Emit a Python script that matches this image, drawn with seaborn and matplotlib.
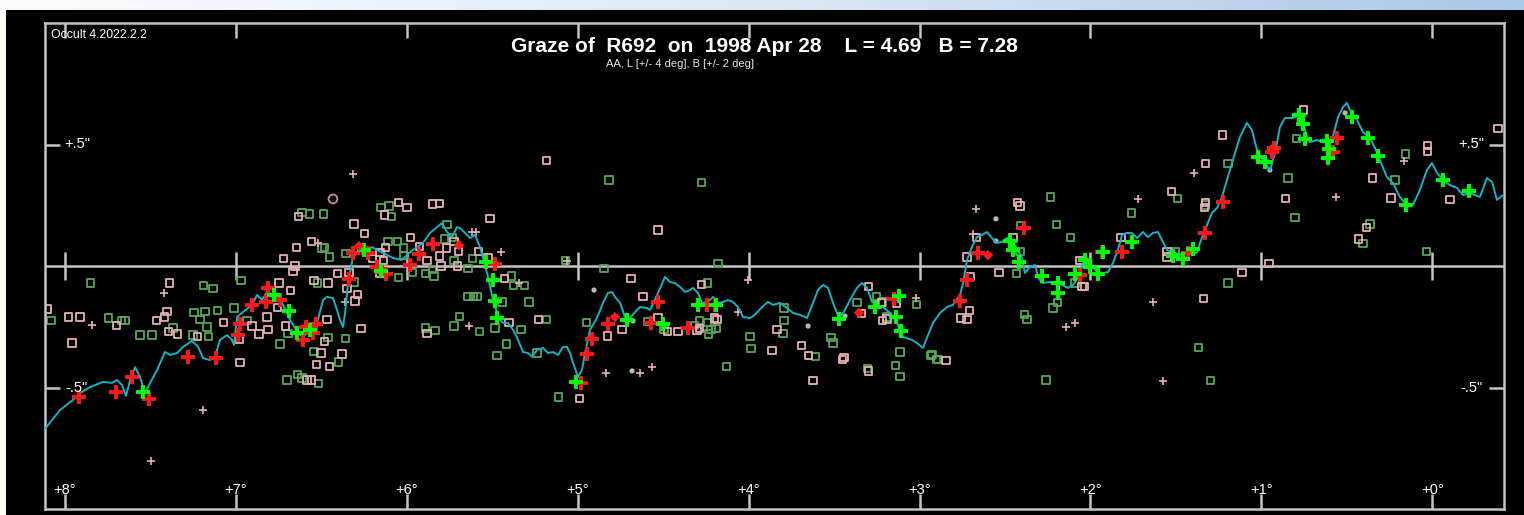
import numpy as np
import pandas as pd
import matplotlib
matplotlib.use("Agg")
import matplotlib.pyplot as plt
from matplotlib.patches import Rectangle
from matplotlib.colors import LinearSegmentedColormap
import seaborn as sns

# ---------------- data (degrees of axis angle, arcsec) ----------------
profile_deg = [8.123, 8.029, 7.953, 7.912, 7.853, 7.777, 7.725, 7.695, 7.666, 7.643, 7.619, 7.590, 7.561, 7.532,
               7.502, 7.461, 7.415, 7.385, 7.344, 7.309, 7.257, 7.221, 7.192, 7.151, 7.122, 7.093, 7.052, 7.023,
               7.011, 6.993, 6.958, 6.906, 6.876, 6.847, 6.818, 6.783, 6.730, 6.683, 6.636, 6.607, 6.566, 6.525,
               6.490, 6.467, 6.432, 6.408, 6.391, 6.373, 6.361, 6.344, 6.315, 6.274, 6.233, 6.203, 6.174, 6.139,
               6.081, 6.028, 5.999, 5.964, 5.905, 5.864, 5.823, 5.794, 5.765, 5.735, 5.706, 5.689, 5.659, 5.630,
               5.601, 5.572, 5.554, 5.525, 5.495, 5.472, 5.454, 5.437, 5.408, 5.378, 5.349, 5.320, 5.291, 5.267,
               5.238, 5.203, 5.174, 5.144, 5.115, 5.086, 5.063, 5.045, 5.027, 4.998, 4.975, 4.957, 4.928, 4.887,
               4.852, 4.823, 4.799, 4.782, 4.752, 4.723, 4.694, 4.653, 4.636, 4.595, 4.577, 4.530, 4.489, 4.460,
               4.431, 4.401, 4.372, 4.343, 4.326, 4.296, 4.273, 4.238, 4.208, 4.179, 4.150, 4.121, 4.091, 4.062,
               4.033, 3.992, 3.963, 3.922, 3.886, 3.857, 3.816, 3.775, 3.740, 3.699, 3.658, 3.623, 3.594, 3.565,
               3.535, 3.506, 3.471, 3.436, 3.407, 3.366, 3.336, 3.307, 3.278, 3.249, 3.214, 3.173, 3.132, 3.097,
               3.044, 3.015, 2.980, 2.950, 2.921, 2.880, 2.839, 2.804, 2.763, 2.745, 2.722, 2.693, 2.664, 2.634,
               2.605, 2.576, 2.547, 2.517, 2.488, 2.459, 2.430, 2.400, 2.383, 2.354, 2.324, 2.307, 2.283, 2.237,
               2.196, 2.166, 2.131, 2.102, 2.073, 2.043, 2.002, 1.962, 1.926, 1.897, 1.868, 1.839, 1.815, 1.786,
               1.757, 1.727, 1.692, 1.663, 1.634, 1.605, 1.581, 1.552, 1.505, 1.459, 1.417, 1.376, 1.359, 1.330,
               1.289, 1.259, 1.230, 1.201, 1.166, 1.125, 1.084, 1.055, 1.025, 0.990, 0.949, 0.920, 0.891, 0.862,
               0.815, 0.786, 0.756, 0.733, 0.715, 0.674, 0.639, 0.598, 0.581, 0.551, 0.522, 0.499, 0.481, 0.440,
               0.405, 0.364, 0.335, 0.306, 0.265, 0.230, 0.189, 0.148, 0.113, 0.072, 0.031, 0.002, -0.028, -0.063,
               -0.104, -0.145, -0.180, -0.221, -0.279, -0.320, -0.350, -0.379, -0.414]
profile_sec = [-0.675, -0.593, -0.551, -0.523, -0.498, -0.477, -0.481, -0.469, -0.490, -0.535, -0.469, -0.416,
               -0.457, -0.523, -0.481, -0.428, -0.354, -0.366, -0.358, -0.333, -0.308, -0.333, -0.379, -0.387,
               -0.374, -0.304, -0.284, -0.304, -0.325, -0.210, -0.189, -0.160, -0.119, -0.140, -0.107, -0.119,
               -0.152, -0.222, -0.275, -0.292, -0.263, -0.234, -0.140, -0.127, -0.132, -0.181, -0.222, -0.251,
               -0.193, -0.070, 0.037, 0.066, 0.066, 0.078, 0.066, 0.054, 0.033, 0.025, 0.045, 0.066, 0.095, 0.136,
               0.160, 0.177, 0.140, 0.119, 0.160, 0.156, 0.136, 0.115, 0.128, 0.078, 0.033, -0.045, -0.140, -0.193,
               -0.222, -0.234, -0.234, -0.263, -0.304, -0.354, -0.358, -0.374, -0.346, -0.337, -0.358, -0.354,
               -0.366, -0.333, -0.333, -0.358, -0.399, -0.457, -0.428, -0.358, -0.263, -0.214, -0.152, -0.111,
               -0.107, -0.127, -0.152, -0.210, -0.214, -0.181, -0.169, -0.173, -0.181, -0.111, -0.045, -0.066,
               -0.070, -0.086, -0.107, -0.099, -0.090, -0.111, -0.152, -0.148, -0.127, -0.152, -0.148, -0.140,
               -0.148, -0.169, -0.210, -0.214, -0.201, -0.169, -0.148, -0.160, -0.152, -0.173, -0.193, -0.201,
               -0.214, -0.152, -0.099, -0.078, -0.090, -0.152, -0.214, -0.181, -0.140, -0.090, -0.070, -0.090,
               -0.148, -0.160, -0.169, -0.193, -0.234, -0.292, -0.304, -0.317, -0.337, -0.284, -0.234, -0.193,
               -0.169, -0.160, -0.119, -0.070, 0.025, 0.078, 0.119, 0.128, 0.140, 0.115, 0.095, 0.099, 0.115,
               0.099, 0.074, 0.033, -0.029, -0.004, 0.004, -0.045, -0.070, -0.066, -0.066, -0.078, -0.090, -0.078,
               -0.049, 0.012, 0.012, -0.025, -0.029, -0.025, 0.012, 0.066, 0.128, 0.136, 0.136, 0.115, 0.140,
               0.119, 0.136, 0.140, 0.107, 0.066, 0.054, 0.045, 0.058, 0.054, 0.095, 0.148, 0.218, 0.239, 0.284,
               0.354, 0.436, 0.531, 0.589, 0.560, 0.477, 0.436, 0.395, 0.465, 0.572, 0.609, 0.609, 0.621, 0.589,
               0.531, 0.510, 0.518, 0.510, 0.518, 0.531, 0.613, 0.654, 0.671, 0.642, 0.601, 0.551, 0.527, 0.486,
               0.436, 0.366, 0.342, 0.284, 0.251, 0.251, 0.313, 0.395, 0.424, 0.383, 0.354, 0.333, 0.321, 0.292,
               0.300, 0.284, 0.362, 0.346, 0.272, 0.292]

red_plus_deg = [7.918, 7.701, 7.608, 7.508, 7.280, 7.116, 6.987, 6.976, 6.906, 6.824, 6.812, 6.742, 6.607, 6.590,
                6.549, 6.531, 6.315, 6.227, 6.338, 6.174, 6.122, 5.981, 5.928, 5.847, 5.484, 4.981, 4.946, 4.916,
                4.823, 4.530, 4.571, 4.355, 4.243, 4.197, 3.149, 2.763, 2.722, 2.658, 2.389, 2.061, 1.932, 1.815,
                1.429, 1.330, 1.225, 0.926, 0.937, 0.557, 0.581]
red_plus_sec = [-0.539, -0.518, -0.457, -0.547, -0.374, -0.378, -0.284, -0.239, -0.160, -0.148, -0.091, -0.140,
                -0.304, -0.251, -0.276, -0.239, 0.054, 0.054, -0.053, -0.004, -0.033, 0.004, 0.050, 0.091, 0.008,
                -0.481, -0.362, -0.300, -0.239, -0.148, -0.234, -0.255, -0.160, -0.160, -0.136, -0.144, -0.058,
                0.054, 0.156, -0.037, 0.058, 0.058, 0.054, 0.136, 0.263, 0.486, 0.469, 0.527, 0.469]

red_dot_deg = [6.280, 5.694, 4.782, 3.354, 2.599]
red_dot_sec = [0.082, 0.086, -0.210, -0.193, 0.045]

green_plus_deg = [7.543, 6.777, 6.689, 6.642, 6.566, 6.250, 6.151, 5.536, 5.495, 5.484, 5.472, 5.010, 4.712, 4.501,
                  4.296, 4.191, 3.260, 3.120, 3.138, 3.108, 2.471, 2.453, 2.418, 2.283, 2.190, 2.190, 2.090, 2.032,
                  2.002, 1.955, 1.926, 1.757, 1.517, 1.459, 1.400, 1.020, 0.979, 0.780, 0.757, 0.745, 0.616, 0.604,
                  0.610, 0.470, 0.376, 0.317, 0.154, -0.063, -0.215, 3.471]
green_plus_sec = [-0.518, -0.119, -0.185, -0.276, -0.263, 0.066, -0.021, 0.017, -0.058, -0.144, -0.214, -0.477,
                  -0.222, -0.239, -0.160, -0.160, -0.169, -0.123, -0.210, -0.267, 0.103, 0.066, 0.017, -0.041,
                  -0.070, -0.111, -0.033, 0.025, -0.004, -0.033, 0.058, 0.099, 0.041, 0.029, 0.070, 0.449, 0.428,
                  0.621, 0.585, 0.523, 0.514, 0.482, 0.445, 0.613, 0.527, 0.453, 0.251, 0.354, 0.309, -0.218]

pink_sq_deg = [8.105, 7.982, 7.912, 7.959, 7.701, 7.467, 7.391, 7.420, 7.403, 7.397, 7.344, 7.227, 7.075, 6.982,
               6.976, 6.906, 6.865, 6.818, 6.812, 6.759, 6.748, 6.712, 6.683, 6.724, 6.666, 6.654, 6.636, 6.560,
               6.648, 6.543, 6.461, 6.467, 6.484, 6.502, 6.531, 6.455, 6.408, 6.584, 6.555, 6.046, 5.999, 5.852,
               5.806, 6.133, 6.309, 6.250, 5.981, 5.928, 6.127, 6.157, 6.203, 6.139, 5.882, 5.811, 5.770, 5.724,
               5.700, 5.583, 5.800, 5.706, 5.525, 5.513, 5.431, 6.338, 6.350, 6.291, 6.303, 6.157, 6.268, 5.882,
               5.402, 5.232, 4.823, 4.741, 4.688, 6.379, 4.618, 4.273, 4.530, 4.477, 4.413, 4.302, 4.290, 4.202,
               4.185, 3.834, 3.863, 3.688, 3.647, 3.453, 3.442, 3.623, 3.301, 3.225, 3.219, 3.190, 3.132, 3.301,
               3.342, 2.722, 2.664, 2.699, 2.705, 2.757, 2.722, 2.845, 2.424, 2.412, 2.453, 2.535, 2.061, 2.049,
               2.032, 1.821, 1.552, 1.552, 1.523, 1.324, 1.330, 1.336, 1.225, 1.324, 0.751, 0.856, 0.352, 0.241,
               0.025, 0.025, -0.104, -0.385, 0.382, 0.429, 0.955, 1.113, 5.180, 4.530, 4.987]
pink_sq_sec = [-0.177, -0.210, -0.210, -0.317, -0.243, -0.226, -0.070, -0.210, -0.189, -0.271, -0.280, -0.292,
               -0.234, -0.304, -0.399, -0.247, -0.280, -0.210, -0.263, -0.169, -0.070, -0.247, -0.099, 0.029,
               -0.021, 0.000, 0.202, 0.099, 0.078, -0.058, -0.070, -0.222, -0.312, -0.358, -0.407, -0.415, -0.029,
               -0.469, -0.469, 0.263, 0.239, 0.255, 0.259, 0.210, 0.173, 0.132, 0.119, 0.082, 0.078, 0.054, 0.029,
               0.021, 0.021, 0.041, 0.074, 0.099, 0.058, 0.058, 0.000, 0.000, 0.033, 0.194, -0.053, -0.025, -0.091,
               -0.119, -0.144, -0.029, -0.259, -0.276, -0.234, -0.222, -0.288, -0.263, -0.053, -0.362, -0.127,
               -0.078, -0.214, -0.271, -0.271, -0.267, -0.259, -0.214, -0.222, -0.263, -0.346, -0.329, -0.370,
               -0.383, -0.378, -0.473, -0.086, -0.152, -0.226, -0.218, -0.156, -0.432, -0.197, 0.037, 0.119,
               -0.045, -0.185, -0.214, -0.222, -0.387, 0.263, 0.247, 0.119, -0.025, 0.021, -0.086, -0.086, 0.119,
               0.058, 0.037, 0.305, 0.263, 0.239, -0.132, 0.539, 0.420, 0.642, 0.276, 0.362, 0.280, 0.494, 0.473,
               0.272, 0.564, 0.160, 0.111, 0.012, -0.025, 0.436, 0.148, -0.547]

green_sq_deg = [7.853, 8.082, 7.748, 7.672, 7.649, 7.561, 7.491, 7.368, 7.251, 7.245, 7.192, 7.134, 7.181, 7.210,
                7.169, 7.163, 7.110, 7.011, 6.970, 6.935, 6.742, 6.695, 6.613, 6.572, 6.490, 6.496, 6.484, 6.455,
                6.525, 6.701, 6.642, 6.613, 6.514, 6.397, 6.543, 6.461, 6.151, 6.104, 6.087, 6.057, 6.110, 6.022,
                6.022, 6.356, 6.309, 6.046, 5.969, 5.893, 5.841, 5.847, 5.724, 5.642, 5.618, 5.765, 5.782, 5.730,
                5.642, 5.612, 5.589, 5.443, 5.390, 5.373, 5.314, 5.285, 5.694, 5.724, 5.893, 5.835, 5.572, 5.484,
                5.419, 5.332, 5.472, 5.238, 5.180, 4.951, 5.074, 4.846, 6.361, 5.115, 4.243, 4.314, 4.290, 4.243,
                4.220, 4.191, 4.237, 3.793, 3.799, 3.992, 3.986, 4.132, 3.611, 3.518, 3.506, 3.366, 3.249, 3.214,
                3.190, 3.114, 3.143, 3.114, 3.307, 2.933, 2.898, 3.020, 3.793, 4.179, 4.594, 4.495, 2.231, 2.201,
                2.119, 2.406, 2.412, 2.430, 2.383, 2.371, 2.219, 2.190, 2.090, 1.757, 1.488, 1.505, 1.365, 1.195,
                2.927, 2.892, 1.195, 1.324, 0.844, 0.792, 0.803, 0.364, 0.405, 0.218, 0.154, 0.031, 4.817, 4.273,
                2.260, 1.300]
green_sq_sec = [-0.070, -0.226, -0.214, -0.226, -0.226, -0.284, -0.284, -0.255, -0.284, -0.193, -0.082, -0.091,
                -0.189, -0.222, -0.251, -0.292, -0.185, -0.173, -0.058, -0.226, -0.321, -0.276, 0.222, 0.214, 0.214,
                0.074, 0.078, 0.037, -0.070, -0.469, -0.448, -0.461, -0.485, -0.395, -0.350, -0.296, 0.239, 0.247,
                0.202, 0.099, 0.099, 0.074, 0.045, 0.050, -0.066, -0.049, -0.025, -0.029, -0.041, -0.016, 0.021,
                -0.012, 0.029, 0.169, 0.111, 0.119, -0.127, -0.127, -0.127, -0.148, -0.041, -0.082, -0.082, -0.148,
                -0.206, -0.247, -0.255, -0.267, -0.271, -0.255, -0.321, -0.263, -0.370, -0.358, -0.222, -0.234,
                0.021, -0.012, -0.300, -0.539, -0.070, -0.243, -0.226, -0.234, -0.263, -0.259, -0.280, -0.173,
                -0.276, -0.292, -0.341, -0.415, -0.374, -0.296, -0.317, -0.152, -0.127, -0.148, -0.210, -0.354,
                -0.411, -0.453, -0.420, -0.370, -0.383, -0.160, -0.226, 0.012, -0.230, -0.263, 0.284, 0.169, 0.119,
                0.165, 0.058, -0.029, -0.201, -0.222, -0.173, -0.152, -0.070, 0.218, 0.276, 0.058, -0.337, -0.070,
                -0.366, -0.383, 0.420, 0.251, 0.362, 0.523, 0.198, 0.173, 0.091, 0.354, 0.461, 0.058, 0.354, 0.342,
                -0.469, -0.473]

small_plus_deg = [7.420, 7.842, 7.192, 7.497, 6.519, 5.449, 5.618, 5.595, 5.343, 5.636, 6.361, 5.062, 4.834, 4.565,
                  4.004, 4.062, 3.020, 4.635, 2.669, 2.687, 1.722, 1.634, 2.143, 2.090, 1.394, 0.563, 0.165, 1.575,
                  6.315]
small_plus_sec = [-0.111, -0.243, -0.592, -0.802, 0.095, 0.058, 0.140, 0.140, -0.070, -0.247, -0.148, 0.021,
                  -0.440, -0.415, -0.058, -0.189, -0.132, -0.440, 0.235, 0.132, 0.276, -0.148, -0.251, -0.234,
                  0.383, 0.284, 0.432, -0.473, 0.379]

gray_deg = [4.905, 4.682, 4.676, 3.652, 3.436, 2.553, 2.553, 0.950, 0.510]
gray_sec = [-0.099, -0.432, -0.226, -0.247, -0.206, 0.194, 0.103, 0.395, 0.630]

circle_deg = [6.432]
circle_sec = [0.276]

x_tick_deg = [8, 7, 6, 5, 4, 3, 2, 1, 0]
x_tick_labels = ["+8°", "+7°", "+6°", "+5°", "+4°", "+3°", "+2°", "+1°", "+0°"]
y_tick_sec = [0.5, -0.5]
y_tick_labels = ['+.5"', '-.5"']

title_text = "Graze of  R692  on  1998 Apr 28    L = 4.69   B = 7.28"
subtitle_text = "AA, L [+/- 4 deg], B [+/- 2 deg]"
version_text = "Occult 4.2022.2.2"

# ---------------- drawing ----------------
sns.set_theme(style="dark")
plt.rcParams["font.family"] = ["Liberation Sans", "DejaVu Sans"]

W, H = 1524, 515
fig = plt.figure(figsize=(W / 100, H / 100), dpi=100, facecolor="black")

# window chrome: gradient bar on top and light strip on the left
bar = fig.add_axes([0, 1 - 10 / H, 1, 10 / H])
grad = np.linspace(0, 1, 256)[None, :]
cmap = LinearSegmentedColormap.from_list("bar", ["#fbfcfe", "#dce8f5", "#a9c8e6"])
bar.imshow(grad, aspect="auto", cmap=cmap)
bar.set_axis_off()
fig.patches.append(Rectangle((0, 0), 6 / W, 1 - 10 / H, transform=fig.transFigure,
                             facecolor="#fffdf6", edgecolor="none", zorder=5))

ax = fig.add_axes([45 / W, 1 - 509 / H, (1504 - 45) / W, (509 - 23) / H])
ax.set_facecolor("black")
ax.grid(False)
ax.set_xlim(8.117, -0.420)
ax.set_ylim(-1.0, 1.0)

frame_col = "#c4c4c4"
for s in ax.spines.values():
    s.set_visible(True)
    s.set_color(frame_col)
    s.set_linewidth(1.8)

ax.axhline(0, color=frame_col, lw=1.8, zorder=1)
ax.vlines(x_tick_deg, -0.057, 0.057, color=frame_col, lw=1.8, zorder=1)

ax.set_xticks(x_tick_deg)
ax.set_yticks(y_tick_sec)
ax.tick_params(axis="both", which="both", direction="in", length=11, width=1.8, color=frame_col,
               top=True, bottom=True, left=True, right=True,
               labelbottom=False, labelleft=False, labeltop=False, labelright=False)


def squares(xs, ys, col, size):
    sns.scatterplot(x=xs, y=ys, marker="s", s=size, ax=ax, legend=False, zorder=2)
    c = ax.collections[-1]
    c.set_facecolor("none")
    c.set_edgecolor(col)
    c.set_linewidth(1.3)


squares(green_sq_deg, green_sq_sec, "#56a856", 26)
squares(pink_sq_deg, pink_sq_sec, "#e6b0b4", 26)
sns.scatterplot(x=circle_deg, y=circle_sec, marker="o", s=40, ax=ax, legend=False, zorder=2)
ax.collections[-1].set_facecolor("none")
ax.collections[-1].set_edgecolor("#c89098")
ax.collections[-1].set_linewidth(1.3)

sns.scatterplot(x=small_plus_deg, y=small_plus_sec, marker="+", s=30, color="#e8b0bc",
                linewidth=1.2, ax=ax, legend=False, zorder=2)
sns.scatterplot(x=gray_deg, y=gray_sec, marker="o", s=14, color="#b8b8b8", edgecolor="none",
                ax=ax, legend=False, zorder=2)

prof = pd.DataFrame({"deg": profile_deg, "sec": profile_sec})
sns.lineplot(data=prof, x="deg", y="sec", sort=False, color="#14b3c6", lw=1.4, ax=ax, zorder=3)

sns.scatterplot(x=red_plus_deg, y=red_plus_sec, marker="+", s=90, color="#ff1818",
                linewidth=2.8, ax=ax, legend=False, zorder=4)
sns.scatterplot(x=green_plus_deg, y=green_plus_sec, marker="+", s=90, color="#00ff00",
                linewidth=2.8, ax=ax, legend=False, zorder=4)
sns.scatterplot(x=red_dot_deg, y=red_dot_sec, marker="D", s=28, color="#ff1818", edgecolor="none",
                ax=ax, legend=False, zorder=4)
ax.set_xlabel("")
ax.set_ylabel("")

# tick labels inside the frame
for d, lab in zip(x_tick_deg, x_tick_labels):
    ax.text(d, -0.92, lab, color="white", fontsize=10.5, ha="center", va="center", zorder=6)
for v, lab in zip(y_tick_sec, y_tick_labels):
    ax.text(7.93, v, lab, color="white", fontsize=10.5, ha="center", va="center", zorder=6)
    ax.text(-0.23, v, lab, color="white", fontsize=10.5, ha="center", va="center", zorder=6)

fig.text(764 / W, 1 - 46 / H, title_text, color="white", fontsize=15, fontweight="bold",
         ha="center", va="center")
fig.text(680 / W, 1 - 64 / H, subtitle_text, color="#e8e8e8", fontsize=8, ha="center", va="center")
fig.text(51 / W, 1 - 35 / H, version_text, color="white", fontsize=8.8, ha="left", va="center")

fig.savefig("out.png", dpi=100, facecolor="black")
